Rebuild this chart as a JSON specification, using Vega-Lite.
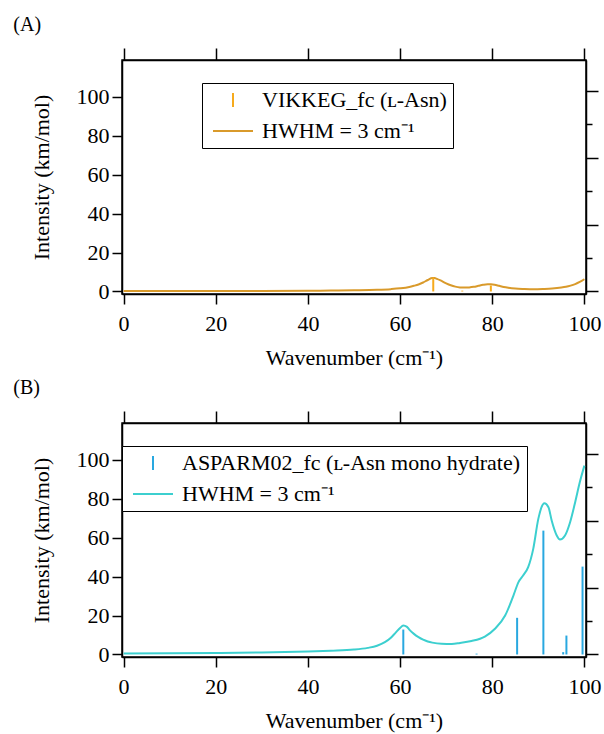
{
  "$schema": "https://vega.github.io/schema/vega-lite/v6.json",
  "background": "white",
  "padding": {"left": 12, "top": 14, "right": 5, "bottom": 2},
  "spacing": 8,
  "config": {
    "font": "Liberation Serif",
    "view": {"stroke": "black", "strokeWidth": 1.5},
    "axis": {"grid": false, "domainColor": "black", "domainWidth": 1.5, "tickColor": "black", "tickWidth": 1.5, "labelColor": "black", "titleColor": "black", "labelFont": "Liberation Serif", "titleFont": "Liberation Serif", "labelFontSize": 22, "titleFontSize": 22, "titleFontWeight": "normal"},
    "legend": {"labelFont": "Liberation Serif", "labelFontSize": 22, "labelColor": "black", "labelLimit": 600, "strokeColor": "black", "fillColor": "white", "padding": 6, "symbolSize": 400, "symbolStrokeWidth": 2, "symbolOffset": 14, "rowPadding": 9, "labelOffset": 18},
    "title": {"font": "Liberation Serif", "fontSize": 20, "fontWeight": "normal", "anchor": "start", "frame": "group", "color": "black"}
  },
  "resolve": {"scale": {"color": "independent"}},
  "datasets": {
    "curveA": [
      {"x": 0, "y": 0.2}, {"x": 10, "y": 0.2}, {"x": 20, "y": 0.25}, {"x": 30, "y": 0.3}, {"x": 40, "y": 0.4}, {"x": 45, "y": 0.45}, {"x": 50, "y": 0.6}, {"x": 55, "y": 0.85}, {"x": 58, "y": 1.2}, {"x": 60, "y": 1.6}, {"x": 62, "y": 2.3}, {"x": 63, "y": 2.9}, {"x": 64, "y": 3.6}, {"x": 65, "y": 4.6}, {"x": 66, "y": 5.9}, {"x": 67, "y": 6.9}, {"x": 67.5, "y": 6.9}, {"x": 68, "y": 6.5}, {"x": 69, "y": 5.4}, {"x": 70, "y": 4.2}, {"x": 71, "y": 3.2}, {"x": 72, "y": 2.5}, {"x": 73, "y": 2.1}, {"x": 74, "y": 2.0}, {"x": 75, "y": 2.1}, {"x": 76, "y": 2.4}, {"x": 77, "y": 2.9}, {"x": 78, "y": 3.4}, {"x": 79, "y": 3.7}, {"x": 79.7, "y": 3.7}, {"x": 80.5, "y": 3.5}, {"x": 81.5, "y": 2.9}, {"x": 82.5, "y": 2.3}, {"x": 83.5, "y": 1.9}, {"x": 85, "y": 1.5}, {"x": 87, "y": 1.3}, {"x": 89, "y": 1.2}, {"x": 91, "y": 1.3}, {"x": 93, "y": 1.5}, {"x": 95, "y": 2.0}, {"x": 96, "y": 2.4}, {"x": 97, "y": 3.0}, {"x": 98, "y": 3.8}, {"x": 99, "y": 4.9}, {"x": 100, "y": 6.3}
    ],
    "sticksA": [
      {"x": 67.2, "h": 8.4}, {"x": 73.5, "h": 0.5}, {"x": 79.7, "h": 3.6}
    ],
    "curveB": [
      {"x": 0, "y": 0.5}, {"x": 10, "y": 0.6}, {"x": 20, "y": 0.75}, {"x": 30, "y": 1.0}, {"x": 40, "y": 1.5}, {"x": 45, "y": 1.9}, {"x": 50, "y": 2.5}, {"x": 53, "y": 3.4}, {"x": 55, "y": 4.5}, {"x": 56.7, "y": 6.3}, {"x": 58, "y": 8.6}, {"x": 59, "y": 11.1}, {"x": 60, "y": 13.6}, {"x": 60.7, "y": 14.9}, {"x": 61.5, "y": 14.2}, {"x": 62, "y": 12.8}, {"x": 63, "y": 10.6}, {"x": 64, "y": 8.9}, {"x": 65, "y": 7.6}, {"x": 66, "y": 6.7}, {"x": 67, "y": 6.1}, {"x": 69, "y": 5.5}, {"x": 71.2, "y": 5.4}, {"x": 73, "y": 5.9}, {"x": 75.5, "y": 6.9}, {"x": 78.4, "y": 9.2}, {"x": 80.6, "y": 13.2}, {"x": 82.8, "y": 20.0}, {"x": 84.6, "y": 30.3}, {"x": 85.7, "y": 37.2}, {"x": 86.7, "y": 40.6}, {"x": 87.8, "y": 44.9}, {"x": 88.9, "y": 54.3}, {"x": 90, "y": 69.7}, {"x": 90.7, "y": 75.7}, {"x": 91.3, "y": 77.7}, {"x": 92.2, "y": 75.7}, {"x": 92.9, "y": 68.9}, {"x": 94, "y": 61.2}, {"x": 94.7, "y": 59.1}, {"x": 95.8, "y": 61.2}, {"x": 96.9, "y": 68.0}, {"x": 98, "y": 78.3}, {"x": 99, "y": 88.5}, {"x": 100, "y": 97.1}
    ],
    "sticksB": [
      {"x": 60.7, "h": 14.9}, {"x": 76.6, "h": 0.5}, {"x": 85.4, "h": 21.9}, {"x": 91.1, "h": 74.0}, {"x": 95.4, "h": 1.4}, {"x": 96.1, "h": 11.3}, {"x": 99.6, "h": 52.5}
    ]
  },
  "vconcat": [
    {
      "title": {"text": "(A)", "dx": -108.7, "offset": 12},
      "width": 464,
      "height": 234,
      "resolve": {"scale": {"y": "independent"}, "axis": {"x": "independent"}},
      "layer": [
        {
          "data": {"name": "curveA"},
          "transform": [{"calculate": "'HWHM = 3 cm⁻¹'", "as": "series"}],
          "mark": {"type": "line", "strokeWidth": 2, "interpolate": "monotone"},
          "encoding": {
            "x": {"field": "x", "type": "quantitative", "scale": {"domain": [-0.35, 100.35], "nice": false, "zero": false}, "axis": {"orient": "bottom", "values": [0, 20, 40, 60, 80, 100], "tickSize": 10, "labelPadding": 9, "title": "Wavenumber (cm⁻¹)", "titlePadding": 13}},
            "y": {"field": "y", "type": "quantitative", "scale": {"domain": [-1.3, 119], "nice": false, "zero": false}, "axis": {"orient": "left", "values": [0, 20, 40, 60, 80, 100], "tickSize": 10, "labelPadding": 3, "title": "Intensity (km/mol)", "titlePadding": 23}},
            "color": {"field": "series", "type": "nominal", "scale": {"domain": ["VIKKEG_fc (ʟ-Asn)", "HWHM = 3 cm⁻¹"], "range": ["#F6AA1C", "#D99A2B"]},
              "legend": {"title": null, "orient": "none", "legendX": 80, "legendY": 23,
                "encode": {"symbols": {"update": {"shape": {"signal": "indexof(datum.value, 'HWHM') === 0 ? 'M-2,0L2,0' : 'M0,-0.7L0,0.7'"}}}}}}
          }
        },
        {
          "data": {"name": "sticksA"},
          "transform": [{"calculate": "'VIKKEG_fc (ʟ-Asn)'", "as": "series"}],
          "mark": {"type": "rule", "strokeWidth": 2},
          "encoding": {
            "x": {"field": "x", "type": "quantitative", "scale": {"domain": [-0.35, 100.35], "nice": false, "zero": false}, "axis": {"orient": "top", "values": [0, 20, 40, 60, 80, 100], "tickSize": 12, "labels": false, "title": null}},
            "y": {"field": "h", "type": "quantitative", "scale": {"domain": [-1.51, 138.3], "nice": false, "zero": false}, "axis": {"orient": "right", "values": [0, 40, 80, 120], "labels": false, "title": null, "tickSize": 12}},
            "y2": {"datum": 0},
            "color": {"field": "series", "type": "nominal"}
          }
        },
        {
          "data": {"name": "sticksA"},
          "mark": {"type": "rule", "opacity": 0},
          "encoding": {
            "x": {"field": "x", "type": "quantitative", "scale": {"domain": [-0.35, 100.35], "nice": false, "zero": false}, "axis": null},
            "y": {"field": "h", "type": "quantitative", "scale": {"domain": [-1.51, 138.3], "nice": false, "zero": false}, "axis": {"orient": "right", "values": [20, 60, 100], "labels": false, "title": null, "domain": false, "tickSize": 6}},
            "y2": {"datum": 0}
          }
        }
      ]
    },
    {
      "title": {"text": "(B)", "dx": -108.7, "offset": 12},
      "width": 464,
      "height": 234,
      "resolve": {"scale": {"y": "independent"}, "axis": {"x": "independent"}},
      "layer": [
        {
          "data": {"name": "curveB"},
          "transform": [{"calculate": "'HWHM = 3 cm⁻¹'", "as": "series"}],
          "mark": {"type": "line", "strokeWidth": 2, "interpolate": "monotone"},
          "encoding": {
            "x": {"field": "x", "type": "quantitative", "scale": {"domain": [-0.35, 100.35], "nice": false, "zero": false}, "axis": {"orient": "bottom", "values": [0, 20, 40, 60, 80, 100], "tickSize": 10, "labelPadding": 9, "title": "Wavenumber (cm⁻¹)", "titlePadding": 13}},
            "y": {"field": "y", "type": "quantitative", "scale": {"domain": [-1.3, 119], "nice": false, "zero": false}, "axis": {"orient": "left", "values": [0, 20, 40, 60, 80, 100], "tickSize": 10, "labelPadding": 3, "title": "Intensity (km/mol)", "titlePadding": 23}},
            "color": {"field": "series", "type": "nominal", "scale": {"domain": ["ASPARM02_fc (ʟ-Asn mono hydrate)", "HWHM = 3 cm⁻¹"], "range": ["#29A8E0", "#3CCFCF"]},
              "legend": {"title": null, "orient": "none", "legendX": 0, "legendY": 23,
                "encode": {"symbols": {"update": {"shape": {"signal": "indexof(datum.value, 'HWHM') === 0 ? 'M-2,0L2,0' : 'M0,-0.7L0,0.7'"}}}}}}
          }
        },
        {
          "data": {"name": "sticksB"},
          "transform": [{"calculate": "'ASPARM02_fc (ʟ-Asn mono hydrate)'", "as": "series"}],
          "mark": {"type": "rule", "strokeWidth": 2},
          "encoding": {
            "x": {"field": "x", "type": "quantitative", "scale": {"domain": [-0.35, 100.35], "nice": false, "zero": false}, "axis": {"orient": "top", "values": [0, 20, 40, 60, 80, 100], "tickSize": 12, "labels": false, "title": null}},
            "y": {"field": "h", "type": "quantitative", "scale": {"domain": [-1.51, 138.3], "nice": false, "zero": false}, "axis": {"orient": "right", "values": [0, 40, 80, 120], "labels": false, "title": null, "tickSize": 12}},
            "y2": {"datum": 0},
            "color": {"field": "series", "type": "nominal"}
          }
        },
        {
          "data": {"name": "sticksB"},
          "mark": {"type": "rule", "opacity": 0},
          "encoding": {
            "x": {"field": "x", "type": "quantitative", "scale": {"domain": [-0.35, 100.35], "nice": false, "zero": false}, "axis": null},
            "y": {"field": "h", "type": "quantitative", "scale": {"domain": [-1.51, 138.3], "nice": false, "zero": false}, "axis": {"orient": "right", "values": [20, 60, 100], "labels": false, "title": null, "domain": false, "tickSize": 6}},
            "y2": {"datum": 0}
          }
        }
      ]
    }
  ]
}
